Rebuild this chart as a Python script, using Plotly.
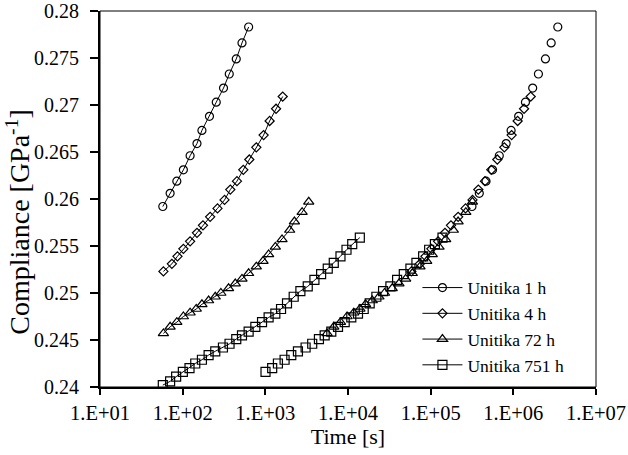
import plotly.graph_objects as go

# ---- data ----
series_names = ["Unitika 1 h", "Unitika 4 h", "Unitika 72 h", "Unitika 751 h"]

t_1h = [57.5, 70.5, 85, 102, 123, 149, 171, 211, 255, 312, 366, 445, 522, 628]
c_1h = [0.2592, 0.2606, 0.2619, 0.2631, 0.2646, 0.2659, 0.2673, 0.2688, 0.2703,
        0.2718, 0.2733, 0.2749, 0.2766, 0.2783]

t_4h = [58.5, 74, 86.5, 102, 123, 149, 176, 215, 264, 321, 377, 454, 541, 640,
        778, 953, 1127, 1348, 1622]
c_4h = [0.2523, 0.2531, 0.2539, 0.2547, 0.2555, 0.2564, 0.2572, 0.2581, 0.2590,
        0.2599, 0.2610, 0.2619, 0.2631, 0.2642, 0.2655, 0.2668, 0.2683, 0.2696, 0.2709]

t_72h = [58.5, 70.5, 85, 102, 123, 146, 171, 206, 248, 290, 359, 433, 522, 628,
         778, 938, 1096, 1321, 1592, 1971, 2248, 2788, 3350]
c_72h = [0.2457, 0.2464, 0.2469, 0.2475, 0.2479, 0.2483, 0.2488, 0.2492, 0.2496,
         0.2500, 0.2505, 0.2510, 0.2515, 0.2521, 0.2528, 0.2534, 0.2541, 0.2549,
         0.2557, 0.2567, 0.2576, 0.2586, 0.2597]

t_751h = [57.5, 70.5, 83.4, 100.5, 121, 142, 171, 206, 248, 307, 369, 445, 522,
          628, 757, 912, 1096, 1321, 1549, 1829, 2203, 2655, 3258, 3926, 4731,
          5689, 6727, 8110, 9590, 11250, 13900]
c_751h = [0.2402, 0.2406, 0.2411, 0.2416, 0.2420, 0.2425, 0.2429, 0.2434, 0.2438,
          0.2442, 0.2446, 0.2451, 0.2455, 0.2459, 0.2464, 0.2469, 0.2474, 0.2478,
          0.2483, 0.2489, 0.2496, 0.2502, 0.2507, 0.2514, 0.2520, 0.2526, 0.2532,
          0.2539, 0.2546, 0.2552, 0.2559]

# horizontal shift (decades) of each series into the master curve, and
# number of leading points left out of the master curve
shift_decades = [3.74, 3.0, 1.98, 1.0]
master_skip = [0, 0, 0, 3]

x_tickvals = [1e1, 1e2, 1e3, 1e4, 1e5, 1e6, 1e7]
x_ticktext = ["1.E+01", "1.E+02", "1.E+03", "1.E+04", "1.E+05", "1.E+06", "1.E+07"]
y_tickvals = [0.24, 0.245, 0.25, 0.255, 0.26, 0.265, 0.27, 0.275, 0.28]
y_ticktext = ["0.24", "0.245", "0.25", "0.255", "0.26", "0.265", "0.27", "0.275", "0.28"]

# ---- styling ----
FONT = "Liberation Serif"
symbols = ["circle-open", "diamond-open", "triangle-up-open", "square-open"]
sizes = [8, 7, 9, 9]

times = [t_1h, t_4h, t_72h, t_751h]
comps = [c_1h, c_4h, c_72h, c_751h]

fig = go.Figure()
for name, t, c, sym, sz in zip(series_names, times, comps, symbols, sizes):
    fig.add_trace(go.Scatter(
        x=t, y=c, mode="lines+markers", name=name,
        line=dict(color="black", width=1),
        marker=dict(symbol=sym, size=sz, color="black", line=dict(color="black", width=1.2)),
    ))

for t, c, sym, sz, sh, sk in zip(times, comps, symbols, sizes, shift_decades, master_skip):
    fig.add_trace(go.Scatter(
        x=[v * 10 ** sh for v in t[sk:]], y=c[sk:], mode="markers", showlegend=False,
        marker=dict(symbol=sym, size=sz, color="black", line=dict(color="black", width=1.2)),
    ))

fig.add_shape(type="rect", xref="paper", yref="paper", x0=0, y0=0, x1=1, y1=1,
              line=dict(color="black", width=1), layer="above")

# y-axis title as a rotated annotation (positioned like the reference)
fig.add_annotation(text="Compliance [GPa<sup>-1</sup>]", textangle=-90,
                   xref="paper", yref="paper", x=-0.165, y=0.44,
                   xanchor="center", yanchor="middle", showarrow=False,
                   font=dict(size=28, family=FONT, color="black"))

fig.update_layout(
    width=628, height=455,
    margin=dict(l=100, r=32, t=11, b=68),
    paper_bgcolor="white", plot_bgcolor="white",
    font=dict(family=FONT, color="black", size=20),
    showlegend=True,
    legend=dict(x=0.640, y=0.312, xanchor="left", yanchor="top",
                bgcolor="rgba(0,0,0,0)", font=dict(size=17.5, family=FONT),
                tracegroupgap=0, itemwidth=40),
    xaxis=dict(type="log", range=[1, 7], tickvals=x_tickvals, ticktext=x_ticktext,
               automargin=False, ticklabeloverflow="allow",
               ticks="outside", ticklen=6, tickwidth=1.5, tickcolor="black",
               showline=True, linecolor="black", linewidth=2, showgrid=False,
               zeroline=False, tickfont=dict(size=20.5, family=FONT),
               title=dict(text="Time [s]", font=dict(size=22, family=FONT), standoff=6)),
    yaxis=dict(range=[0.2399999, 0.2800001], tickvals=y_tickvals, ticktext=y_ticktext,
               automargin=False, ticklabeloverflow="allow",
               ticks="outside", ticklen=8, tickwidth=1.5, tickcolor="black",
               ticklabelstandoff=7,
               showline=True, linecolor="black", linewidth=2, showgrid=False,
               zeroline=False, tickfont=dict(size=20, family=FONT)),
)

fig.write_html("out.html")
